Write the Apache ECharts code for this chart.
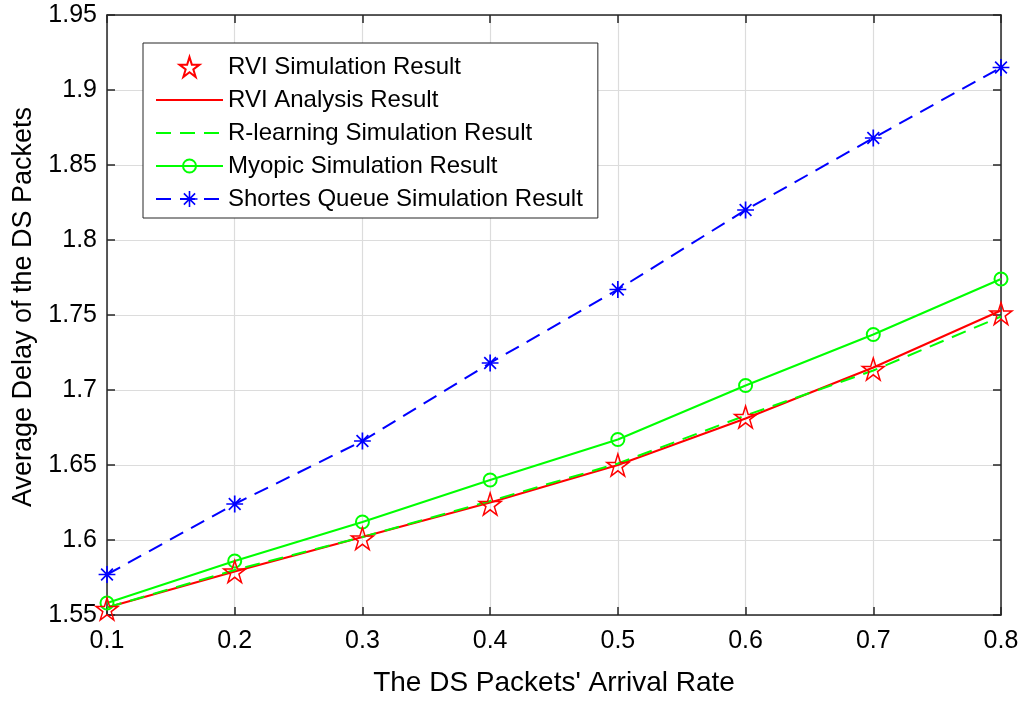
<!DOCTYPE html>
<html>
<head>
<meta charset="utf-8">
<script src="https://cdn.jsdelivr.net/npm/echarts@6/dist/echarts.min.js"></script>
<style>
html,body{margin:0;padding:0;background:#fff;}
#c{width:1023px;height:702px;}
</style>
</head>
<body>
<div id="c"></div>
<script>
var arrivalRate = [0.1, 0.2, 0.3, 0.4, 0.5, 0.6, 0.7, 0.8];
var rviSimulation = [1.554, 1.579, 1.601, 1.624, 1.650, 1.682, 1.714, 1.751];
var rviAnalysis = [1.555, 1.579, 1.602, 1.625, 1.650, 1.681, 1.715, 1.753];
var rLearning = [1.555, 1.580, 1.602, 1.626, 1.651, 1.683, 1.713, 1.749];
var myopic = [1.558, 1.586, 1.612, 1.640, 1.667, 1.703, 1.737, 1.774];
var shortestQueue = [1.577, 1.624, 1.666, 1.718, 1.767, 1.820, 1.868, 1.915];
var seriesNames = ['RVI Simulation Result', 'RVI Analysis Result', 'R-learning Simulation Result', 'Myopic Simulation Result', 'Shortes Queue Simulation Result'];

function pairs(ys){ return arrivalRate.map(function(x,i){ return [x, ys[i]]; }); }

var starPath = 'path://M50,2 L61.2,36.3 L97.6,36.3 L68.2,57.6 L79.4,91.9 L50,70.7 L20.6,91.9 L31.8,57.6 L2.4,36.3 L38.8,36.3 Z';
var asteriskPath = 'path://M-12.5,-12.5 M112.5,112.5 M45,0 L55,0 L55,100 L45,100 Z M0,45 L100,45 L100,55 L0,55 Z M18.5,11.5 L88.5,81.5 L81.5,88.5 L11.5,18.5 Z M81.5,11.5 L88.5,18.5 L18.5,88.5 L11.5,81.5 Z';
var circlePath = 'path://M-26.9,-26.9 M126.9,126.9 M100,50 A50,50 0 1,1 0,50 A50,50 0 1,1 100,50 Z';

var FONT = 'Liberation Sans, Arial, Helvetica, sans-serif';
var AX = '#262626';

var chart = echarts.init(document.getElementById('c'), null, {renderer:'canvas'});
chart.setOption({
  animation: false,
  backgroundColor: '#ffffff',
  textStyle: {fontFamily: FONT},
  grid: {left: 107, right: 22, top: 15, bottom: 84, containLabel: false},
  legend: {
    orient: 'vertical',
    left: 143, top: 43,
    width: 457,
    backgroundColor: '#ffffff',
    borderColor: AX, borderWidth: 1,
    padding: [12, 15, 7, 12],
    itemWidth: 67, itemHeight: 25, itemGap: 9,
    textStyle: {fontSize: 24, color: '#000', fontFamily: FONT},
    data: [
      {name: seriesNames[0]},
      {name: seriesNames[1], itemStyle: {opacity: 0}},
      {name: seriesNames[2], itemStyle: {opacity: 0}},
      {name: seriesNames[3]},
      {name: seriesNames[4]}
    ]
  },
  xAxis: [{
    type: 'value', min: 0.1, max: 0.8, interval: 0.1,
    name: "The DS Packets' Arrival Rate", nameLocation: 'middle', nameGap: 54,
    nameTextStyle: {fontSize: 28, color: '#000', fontFamily: FONT},
    axisLine: {show: true, lineStyle: {color: AX, width: 1.5}},
    axisTick: {show: true, inside: true, length: 8, lineStyle: {color: AX, width: 1.5}},
    axisLabel: {fontSize: 25, color: '#000', margin: 14, fontFamily: FONT},
    splitLine: {show: true, lineStyle: {color: '#dcdcdc', width: 1.2}}
  }, {
    type: 'value', min: 0.1, max: 0.8, interval: 0.1, position: 'top',
    axisLine: {show: true, lineStyle: {color: AX, width: 1.5}},
    axisTick: {show: true, inside: true, length: 8, lineStyle: {color: AX, width: 1.5}},
    axisLabel: {show: false}, splitLine: {show: false}
  }],
  yAxis: [{
    type: 'value', min: 1.55, max: 1.95, interval: 0.05,
    name: 'Average Delay of the DS Packets', nameLocation: 'middle', nameGap: 62, nameRotate: 90,
    nameTextStyle: {fontSize: 27, color: '#000', fontFamily: FONT, padding: [0, 0, 0, 16]},
    axisLine: {show: true, lineStyle: {color: AX, width: 1.5}},
    axisTick: {show: true, inside: true, length: 8, lineStyle: {color: AX, width: 1.5}},
    axisLabel: {fontSize: 25, color: '#000', margin: 10, fontFamily: FONT},
    splitLine: {show: true, lineStyle: {color: '#dcdcdc', width: 1.2}}
  }, {
    type: 'value', min: 1.55, max: 1.95, interval: 0.05, position: 'right',
    axisLine: {show: true, lineStyle: {color: AX, width: 1.5}},
    axisTick: {show: true, inside: true, length: 8, lineStyle: {color: AX, width: 1.5}},
    axisLabel: {show: false}, splitLine: {show: false}
  }],
  series: [
    {
      name: seriesNames[1], type: 'line', data: pairs(rviAnalysis),
      symbol: 'none', lineStyle: {color: '#ff0000', width: 2}, itemStyle: {color: '#ff0000'}, z: 3
    },
    {
      name: seriesNames[2], type: 'line', data: pairs(rLearning),
      symbol: 'none', lineStyle: {color: '#00ff00', width: 2, type: [15, 9]}, itemStyle: {color: '#00ff00'}, z: 4
    },
    {
      name: seriesNames[3], type: 'line', data: pairs(myopic),
      symbol: circlePath, symbolSize: 20, showAllSymbol: true,
      lineStyle: {color: '#00ff00', width: 2},
      itemStyle: {color: 'rgba(0,0,0,0)', borderColor: '#00ff00', borderWidth: 2}, z: 4
    },
    {
      name: seriesNames[4], type: 'line', data: pairs(shortestQueue),
      symbol: asteriskPath, symbolSize: 21, showAllSymbol: true,
      lineStyle: {color: '#0000ff', width: 2, type: [15, 9]},
      itemStyle: {color: '#0000ff'}, z: 4
    },
    {
      name: seriesNames[0], type: 'line', data: pairs(rviSimulation),
      symbol: starPath, symbolSize: 22, showAllSymbol: true,
      lineStyle: {opacity: 0, width: 0},
      itemStyle: {color: 'rgba(0,0,0,0)', borderColor: '#ff0000', borderWidth: 1.5}, z: 5
    }
  ]
});
</script>
</body>
</html>
